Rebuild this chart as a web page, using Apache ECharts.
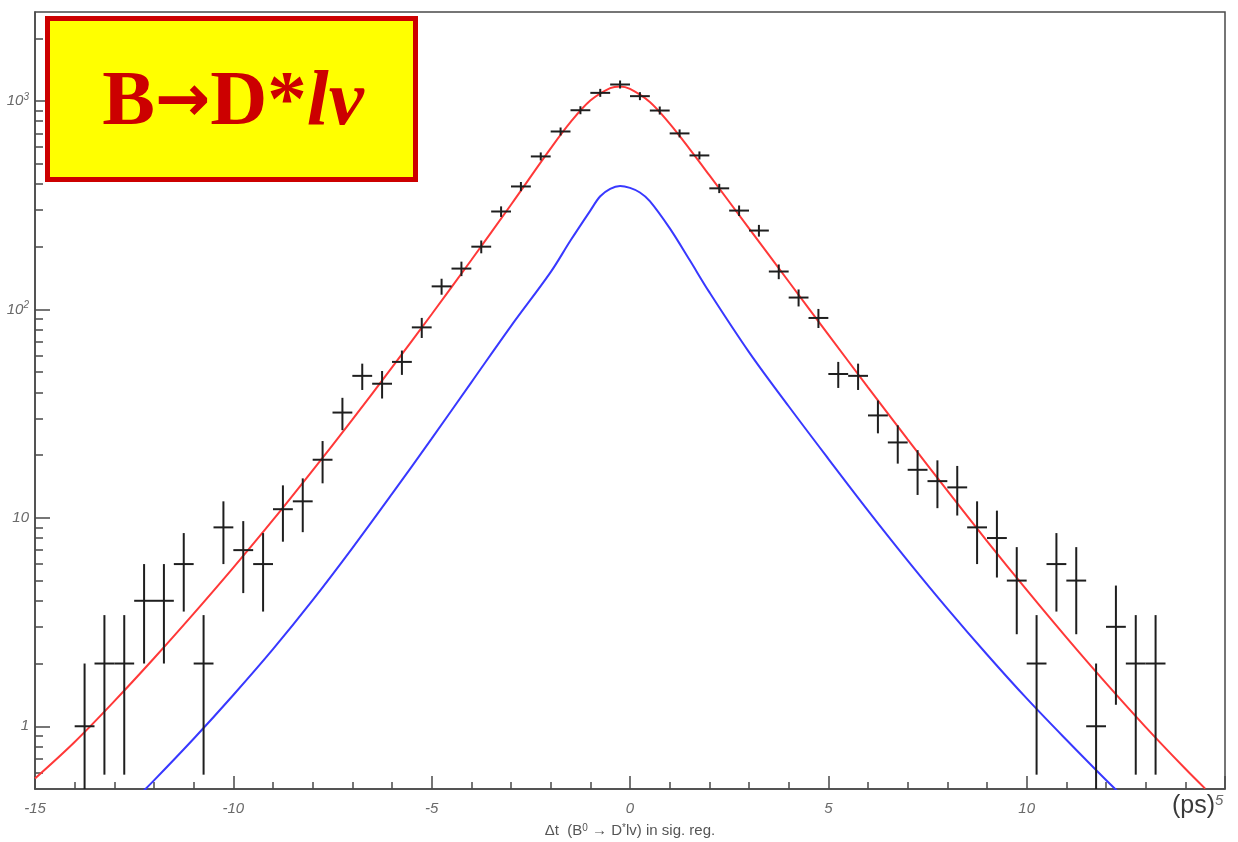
<!DOCTYPE html>
<html><head><meta charset="utf-8">
<script src="https://cdn.jsdelivr.net/npm/echarts@6/dist/echarts.min.js"></script>
<style>html,body{margin:0;padding:0;background:#fff}#c{width:1238px;height:842px}</style>
</head><body><div id="c"></div>
<script>
// ---- data ----
const binCenters = [-13.75,-13.25,-12.75,-12.25,-11.75,-11.25,-10.75,-10.25,-9.75,-9.25,-8.75,-8.25,-7.75,-7.25,-6.75,-6.25,-5.75,-5.25,-4.75,-4.25,-3.75,-3.25,-2.75,-2.25,-1.75,-1.25,-0.75,-0.25,
  0.25,0.75,1.25,1.75,2.25,2.75,3.25,3.75,4.25,4.75,5.25,5.75,6.25,6.75,7.25,7.75,8.25,8.75,9.25,9.75,10.25,10.75,11.25,11.75,12.25,12.75,13.25];
const counts = [1,2,2,4,4,6,2,9,7,6,11,12,19,32,48,44,56,82,129,157,200,295,389,542,714,903,1094,1200,
  1055,900,699,548,381,298,239,152,114,91,49,48,31,23,17,15,14,9,8,5,2,6,5,1,3,2,2];

const fitX = [-15,-14,-13,-12,-11,-10,-9,-8,-7,-6,-5,-4,-3,-2,-1.5,-1,-0.5,-0.25,0,0.5,1,1.5,2,3,4,5,6,7,8,9,10,11,12,13,14,14.5];
const fitY = [0.562,0.841,1.32,2.12,3.47,5.77,9.77,16.9,29.6,52.7,94.8,172.6,317.7,592,791,1005,1153,1175,1143,989,778,589,440.6,244.9,136.1,75.7,42.3,23.8,13.5,7.74,4.51,2.67,1.61,0.991,0.625,0.502];

const sigX = [-12.5,-12,-11,-10,-9,-8,-7,-6,-5,-4,-3,-2,-1.5,-1,-0.75,-0.5,-0.25,0,0.25,0.5,1,1.5,2,3,4,5,6,7,8,9,10,11,12,12.5];
const sigY = [0.442,0.550,0.871,1.413,2.344,4.027,7.16,13.03,23.99,44.67,83.18,151,214,298,349,379,391,383,364,331,245.5,173,121,62.4,34.3,19.2,10.84,6.24,3.67,2.21,1.36,0.861,0.552,0.447];

const yMajorTicks = [1, 10, 100, 1000];
const yMajorLabels = ['1', '10', '10{sup|2}', '10{sup|3}'];
const yMinorTicks = [0.6,0.7,0.8,0.9,2,3,4,5,6,7,8,9,20,30,40,50,60,70,80,90,200,300,400,500,600,700,800,900,2000];

const xTitle = 'Δt  (B{s|0} → D{s|*}lv) in sig. reg.';
const boxTitle = ['B', '→', 'D*', 'lν'];
const unitText = '(ps)';

// ---- build ----
const binHalf = 0.25;
const pointData = binCenters.map((x, i) => {
  const n = counts[i], e = Math.sqrt(n);
  return [x, n, n - e, n + e];
});
const fitData = fitX.map((x, i) => [x, fitY[i]]);
const sigData = sigX.map((x, i) => [x, sigY[i]]);

const axisColor = '#4a4a4a';
const labelStyle = {color: '#6a6a6a', fontStyle: 'italic', fontFamily: 'Liberation Sans', fontSize: 15};

const chart = echarts.init(document.getElementById('c'), null, {renderer: 'canvas'});
chart.setOption({
  backgroundColor: '#ffffff',
  animation: false,
  grid: {left: 35, right: 13, top: 12, bottom: 53, show: true, borderColor: axisColor, borderWidth: 1.5, backgroundColor: '#fff'},
  xAxis: {
    type: 'value', min: -15, max: 15, interval: 5,
    axisLine: {show: true, onZero: false, lineStyle: {color: axisColor, width: 1.5}},
    axisTick: {show: true, inside: true, length: 13, lineStyle: {color: axisColor, width: 1.5}},
    minorTick: {show: true, splitNumber: 5, length: 7, lineStyle: {color: axisColor, width: 1.5}},
    axisLabel: Object.assign({margin: 12, showMaxLabel: false}, labelStyle),
    splitLine: {show: false}, minorSplitLine: {show: false}
  },
  yAxis: [{
    type: 'log', logBase: 10, min: 0.5, max: 2673,
    axisLine: {show: true, onZero: false, lineStyle: {color: axisColor, width: 1.5}},
    axisTick: {show: true, inside: true, length: 15, customValues: yMajorTicks, lineStyle: {color: axisColor, width: 1.5}},
    axisLabel: Object.assign({
      margin: 6, customValues: yMajorTicks,
      formatter: v => { const i = yMajorTicks.findIndex(t => Math.abs(t - v) / t < 1e-6); return i >= 0 ? yMajorLabels[i] : ''; },
      rich: {sup: {fontSize: 10, color: '#6a6a6a', fontStyle: 'italic', fontFamily: 'Liberation Sans', verticalAlign: 'top', padding: [0, 0, 8, 0]}}
    }, labelStyle),
    splitLine: {show: false}
  }, {
    type: 'log', logBase: 10, min: 0.5, max: 2673, position: 'left',
    axisLine: {show: false, onZero: false},
    axisTick: {show: true, inside: true, length: 8, customValues: yMinorTicks, lineStyle: {color: axisColor, width: 1.5}},
    axisLabel: {show: false},
    splitLine: {show: false}
  }],
  series: [
    {type: 'line', data: fitData, smooth: 0.35, showSymbol: false, clip: true, lineStyle: {color: '#ff3838', width: 2}, z: 3},
    {type: 'line', data: sigData, smooth: 0.35, showSymbol: false, clip: true, lineStyle: {color: '#3838ff', width: 2}, z: 3},
    {
      type: 'custom', data: pointData, clip: true, z: 4,
      renderItem: (params, api) => {
        const cs = params.coordSys;
        const x = api.value(0), y = api.value(1), lo = api.value(2), hi = api.value(3);
        const pl = api.coord([x - binHalf, y]), pr = api.coord([x + binHalf, y]);
        const pc = api.coord([x, y]);
        let yLo = lo > 0 ? api.coord([x, lo])[1] : cs.y + cs.height;
        let yHi = api.coord([x, hi])[1];
        yLo = Math.min(Math.max(yLo, pc[1] + 4), cs.y + cs.height);
        yHi = Math.min(yHi, pc[1] - 4);
        const st = {stroke: '#1e1e1e', lineWidth: 2};
        return {type: 'group', children: [
          {type: 'line', shape: {x1: pl[0], y1: pl[1], x2: pr[0], y2: pr[1]}, style: st},
          {type: 'line', shape: {x1: pc[0], y1: yLo, x2: pc[0], y2: yHi}, style: st}
        ]};
      }
    }
  ],
  graphic: [
    {type: 'rect', shape: {x: 47.5, y: 18.5, width: 368, height: 161}, style: {fill: '#ffff00', stroke: '#cc0000', lineWidth: 5}, z: 20},
    {type: 'text', x: 233, y: 104, z: 21, style: {
      text: '{b|' + boxTitle[0] + '}{a|' + boxTitle[1] + '}{b|' + boxTitle[2] + '}{i|' + boxTitle[3] + '}',
      align: 'center', verticalAlign: 'middle',
      rich: {
        b: {fontFamily: 'Liberation Serif', fontWeight: 'bold', fontSize: 79, fill: '#cc0000', color: '#cc0000'},
        a: {fontFamily: 'DejaVu Sans', fontWeight: 'bold', fontSize: 66, fill: '#cc0000', color: '#cc0000'},
        i: {fontFamily: 'Liberation Serif', fontWeight: 'bold', fontStyle: 'italic', fontSize: 79, fill: '#cc0000', color: '#cc0000'}
      }
    }},
    {type: 'text', x: 630, y: 831, z: 21, style: {
      text: xTitle, align: 'center', verticalAlign: 'middle',
      fontFamily: 'Liberation Sans', fontSize: 15, fill: '#555',
      rich: {s: {fontFamily: 'Liberation Sans', fontSize: 10, fill: '#555', verticalAlign: 'top', padding: [0, 0, 6, 0]}}
    }},
    {type: 'text', x: 1172, y: 806, z: 21, style: {
      text: unitText + '{s|5}', align: 'left', verticalAlign: 'middle',
      fontFamily: 'Liberation Sans', fontSize: 25, fill: '#3a3a3a',
      rich: {s: {fontFamily: 'Liberation Sans', fontStyle: 'italic', fontSize: 15, fill: '#6a6a6a', verticalAlign: 'top', padding: [0, 0, 10, 0]}}
    }}
  ]
});
</script>
</body></html>
